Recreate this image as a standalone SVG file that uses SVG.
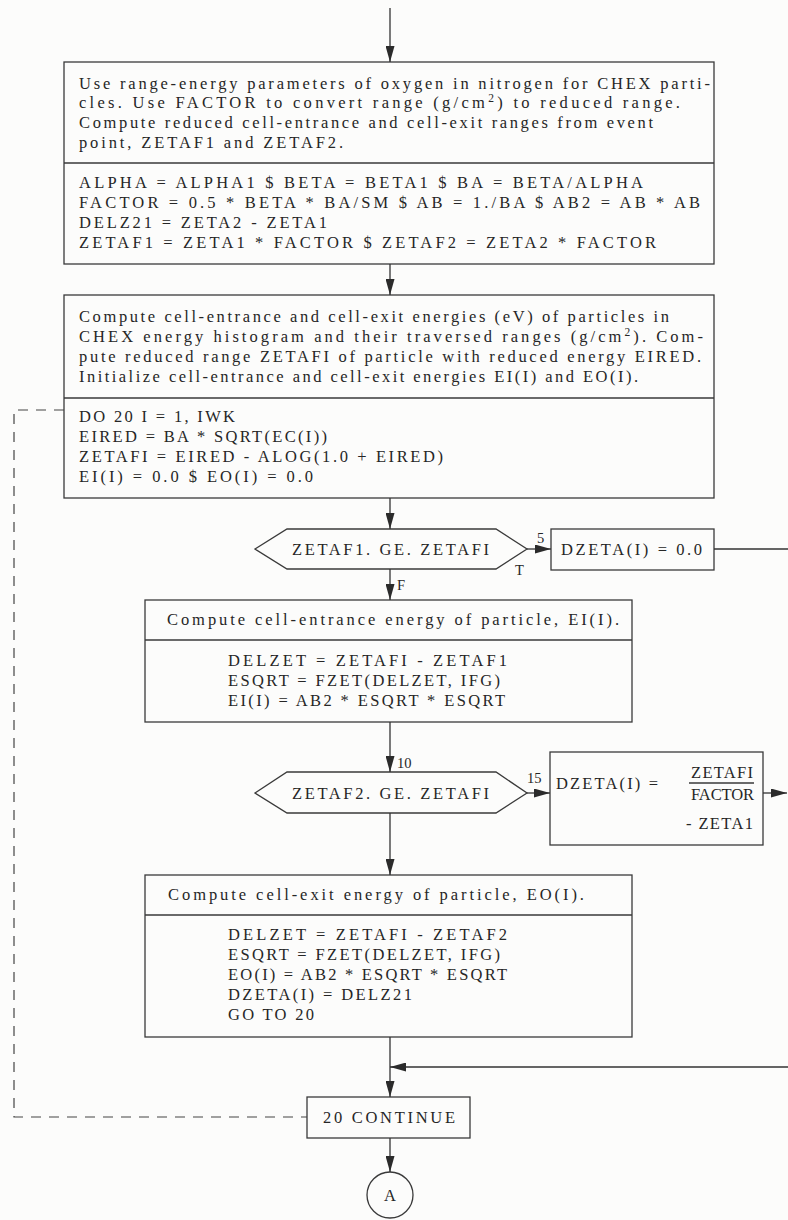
<svg xmlns="http://www.w3.org/2000/svg" width="788" height="1220" viewBox="0 0 788 1220">
  <style>
    .bg { fill: #fcfcfb; }
    .box { fill: none; stroke: #3a3a3a; stroke-width: 1.3; }
    .div { stroke: #3a3a3a; stroke-width: 1.3; }
    .t { font-family: "Liberation Serif", "Times New Roman", serif; font-size: 16.5px; fill: #262626; }
    .lbl { font-family: "Liberation Serif", "Times New Roman", serif; font-size: 14.5px; fill: #262626; }
    .sup { font-size: 11.5px; }
    .conn { fill: none; stroke: #333; stroke-width: 1.3; }
    .dash { fill: none; stroke: #444; stroke-width: 1.2; stroke-dasharray: 10 8; }
  </style>
  <defs>
    <marker id="ah" viewBox="0 0 16 9" markerWidth="16" markerHeight="9" refX="16" refY="4.5" orient="auto" markerUnits="userSpaceOnUse">
      <path d="M0,0 L16,4.5 L0,9 Z" fill="#2b2b2b"/>
    </marker>
  </defs>

  <rect class="bg" x="0" y="0" width="788" height="1220"/>

  <!-- range-energy setup -->
  <g id="setup">
    <rect class="box" x="64" y="62" width="650" height="202"/>
    <line class="div" x1="64" y1="163" x2="714" y2="163"/>
    <text class="t" x="79" y="89" textLength="631" lengthAdjust="spacing">Use range-energy parameters of oxygen in nitrogen for CHEX parti-</text>
    <text class="t" x="79" y="108" textLength="601" lengthAdjust="spacing">cles.  Use FACTOR to convert range (g/cm<tspan class="sup" dy="-6">2</tspan><tspan dy="6">) to reduced range.</tspan></text>
    <text class="t" x="79" y="128" textLength="574" lengthAdjust="spacing">Compute reduced cell-entrance and cell-exit ranges from event</text>
    <text class="t" x="79" y="148" textLength="264" lengthAdjust="spacing">point, ZETAF1 and ZETAF2.</text>
    <text class="t" x="79" y="188" textLength="564" lengthAdjust="spacing">ALPHA = ALPHA1  $  BETA = BETA1  $  BA = BETA/ALPHA</text>
    <text class="t" x="79" y="208" textLength="621" lengthAdjust="spacing">FACTOR = 0.5 * BETA * BA/SM  $  AB = 1./BA  $  AB2 = AB * AB</text>
    <text class="t" x="79" y="228" textLength="248" lengthAdjust="spacing">DELZ21 = ZETA2 - ZETA1</text>
    <text class="t" x="79" y="248" textLength="577" lengthAdjust="spacing">ZETAF1 = ZETA1 * FACTOR  $  ZETAF2 = ZETA2 * FACTOR</text>
  </g>

  <!-- loop head -->
  <g id="loop-init">
    <rect class="box" x="64" y="295" width="650" height="203"/>
    <line class="div" x1="64" y1="398" x2="714" y2="398"/>
    <text class="t" x="79" y="322" textLength="590" lengthAdjust="spacing">Compute cell-entrance and cell-exit energies (eV) of particles in</text>
    <text class="t" x="79" y="342" textLength="624" lengthAdjust="spacing">CHEX energy histogram and their traversed ranges (g/cm<tspan class="sup" dy="-6">2</tspan><tspan dy="6">).  Com-</tspan></text>
    <text class="t" x="79" y="362" textLength="622" lengthAdjust="spacing">pute reduced range ZETAFI of particle with reduced energy EIRED.</text>
    <text class="t" x="79" y="382" textLength="559" lengthAdjust="spacing">Initialize cell-entrance and cell-exit energies EI(I) and EO(I).</text>
    <text class="t" x="79" y="422" textLength="156" lengthAdjust="spacing">DO 20  I = 1, IWK</text>
    <text class="t" x="79" y="442" textLength="248" lengthAdjust="spacing">EIRED = BA * SQRT(EC(I))</text>
    <text class="t" x="79" y="462" textLength="364" lengthAdjust="spacing">ZETAFI = EIRED - ALOG(1.0 + EIRED)</text>
    <text class="t" x="79" y="482" textLength="234" lengthAdjust="spacing">EI(I) = 0.0  $  EO(I) = 0.0</text>
  </g>

  <!-- first test -->
  <g id="test-entrance">
    <polygon class="box" points="255,549 287,529 496,529 527,549 496,569 287,569"/>
    <text class="t" x="292" y="555" textLength="197" lengthAdjust="spacing">ZETAF1. GE. ZETAFI</text>
  </g>

  <g id="dzeta-zero">
    <rect class="box" x="551" y="529" width="163" height="41"/>
    <text class="t" x="561" y="555" textLength="141" lengthAdjust="spacing">DZETA(I) = 0.0</text>
  </g>

  <!-- entrance energy -->
  <g id="entrance-energy">
    <rect class="box" x="145" y="600" width="487" height="122"/>
    <line class="div" x1="145" y1="640" x2="632" y2="640"/>
    <text class="t" x="167" y="625" textLength="452" lengthAdjust="spacing">Compute cell-entrance energy of particle, EI(I).</text>
    <text class="t" x="228" y="666" textLength="279" lengthAdjust="spacing">DELZET = ZETAFI - ZETAF1</text>
    <text class="t" x="228" y="686" textLength="272" lengthAdjust="spacing">ESQRT = FZET(DELZET, IFG)</text>
    <text class="t" x="228" y="706" textLength="277" lengthAdjust="spacing">EI(I) = AB2 * ESQRT * ESQRT</text>
  </g>

  <!-- second test -->
  <g id="test-exit">
    <polygon class="box" points="255,793 287,772 496,772 527,793 496,813 287,813"/>
    <text class="t" x="292" y="799" textLength="197" lengthAdjust="spacing">ZETAF2. GE. ZETAFI</text>
  </g>

  <g id="dzeta-partial">
    <rect class="box" x="550" y="752" width="213" height="93"/>
    <text class="t" x="556" y="789" textLength="102" lengthAdjust="spacing">DZETA(I) =</text>
    <text class="t" x="691" y="778" textLength="62" lengthAdjust="spacing">ZETAFI</text>
    <line class="div" x1="689" y1="783" x2="754" y2="783"/>
    <text class="t" x="691" y="800" textLength="63" lengthAdjust="spacing">FACTOR</text>
    <text class="t" x="686" y="829" textLength="67" lengthAdjust="spacing">- ZETA1</text>
  </g>

  <!-- exit energy -->
  <g id="exit-energy">
    <rect class="box" x="145" y="875" width="487" height="162"/>
    <line class="div" x1="145" y1="915" x2="632" y2="915"/>
    <text class="t" x="168" y="900" textLength="416" lengthAdjust="spacing">Compute cell-exit energy of particle, EO(I).</text>
    <text class="t" x="228" y="940" textLength="279" lengthAdjust="spacing">DELZET = ZETAFI - ZETAF2</text>
    <text class="t" x="228" y="960" textLength="272" lengthAdjust="spacing">ESQRT = FZET(DELZET, IFG)</text>
    <text class="t" x="228" y="980" textLength="279" lengthAdjust="spacing">EO(I) = AB2 * ESQRT * ESQRT</text>
    <text class="t" x="228" y="1000" textLength="184" lengthAdjust="spacing">DZETA(I) = DELZ21</text>
    <text class="t" x="228" y="1020" textLength="86" lengthAdjust="spacing">GO TO 20</text>
  </g>

  <g id="continue">
    <rect class="box" x="307" y="1097" width="163" height="41"/>
    <text class="t" x="323" y="1123" textLength="132" lengthAdjust="spacing">20 CONTINUE</text>
  </g>

  <g id="connector-A">
    <circle class="box" cx="390" cy="1195" r="23"/>
    <text class="t" x="390" y="1201" text-anchor="middle">A</text>
  </g>

  <!-- flow lines -->
  <g id="connectors">
    <line class="conn" x1="390" y1="8" x2="390" y2="62" marker-end="url(#ah)"/>
    <line class="conn" x1="390" y1="264" x2="390" y2="295" marker-end="url(#ah)"/>
    <line class="conn" x1="390" y1="498" x2="390" y2="529" marker-end="url(#ah)"/>
    <line class="conn" x1="527" y1="549" x2="551" y2="549" marker-end="url(#ah)"/>
    <line class="conn" x1="714" y1="549" x2="788" y2="549"/>
    <line class="conn" x1="390" y1="569" x2="390" y2="600" marker-end="url(#ah)"/>
    <line class="conn" x1="390" y1="722" x2="390" y2="772" marker-end="url(#ah)"/>
    <line class="conn" x1="527" y1="793" x2="550" y2="793" marker-end="url(#ah)"/>
    <line class="conn" x1="763" y1="793" x2="787" y2="793" marker-end="url(#ah)"/>
    <line class="conn" x1="390" y1="813" x2="390" y2="875" marker-end="url(#ah)"/>
    <line class="conn" x1="390" y1="1037" x2="390" y2="1097" marker-end="url(#ah)"/>
    <line class="conn" x1="788" y1="1067" x2="390" y2="1067" marker-end="url(#ah)"/>
    <line class="conn" x1="390" y1="1138" x2="390" y2="1172" marker-end="url(#ah)"/>
    <path class="dash" d="M64,410 H14 V1117 H307"/>
    <text class="lbl" x="537" y="543">5</text>
    <text class="lbl" x="515" y="575">T</text>
    <text class="lbl" x="397" y="590">F</text>
    <text class="lbl" x="397" y="768">10</text>
    <text class="lbl" x="527" y="783">15</text>
  </g>
</svg>
